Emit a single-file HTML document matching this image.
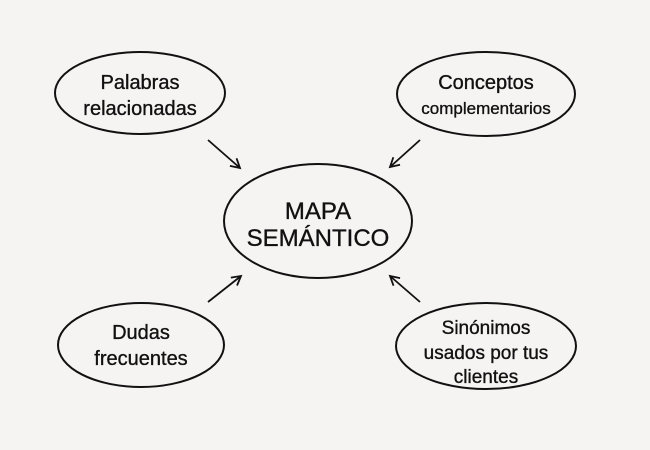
<!DOCTYPE html>
<html><head><style>
body{margin:0;background:#f6f3f3;}
svg{display:block}
text{font-family:"Liberation Sans",sans-serif;fill:#111;stroke:#111;stroke-width:0.35;text-anchor:middle;}
</style></head><body>
<svg width="650" height="450" viewBox="0 0 650 450">
<rect width="650" height="450" fill="#f6f3f3"/>
<defs><marker id="a" markerWidth="12" markerHeight="12" refX="10" refY="6" orient="auto" markerUnits="userSpaceOnUse"><path d="M1,1 L10,6 L1,11" fill="none" stroke="#111" stroke-width="1.8"/></marker></defs>
<g fill="none" stroke="#111" stroke-width="2">
<ellipse cx="318" cy="221" rx="94" ry="57"/>
<ellipse cx="140" cy="93" rx="85" ry="41"/>
<ellipse cx="486" cy="94" rx="89" ry="42"/>
<ellipse cx="141" cy="345" rx="83" ry="42"/>
<ellipse cx="486" cy="346" rx="90" ry="43"/>
<g stroke-width="1.8" marker-end="url(#a)">
<line x1="208" y1="140" x2="240" y2="168"/>
<line x1="420" y1="140" x2="390" y2="167"/>
<line x1="208" y1="302" x2="241" y2="276"/>
<line x1="420" y1="302" x2="390" y2="276"/>
</g></g>
<text x="140" y="89" font-size="20">Palabras</text>
<text x="140" y="115" font-size="20">relacionadas</text>
<text x="486" y="89" font-size="20">Conceptos</text>
<text x="486" y="114" font-size="17">complementarios</text>
<text x="318" y="219" font-size="24" stroke-width="0.2">MAPA</text>
<text x="318" y="246" font-size="24" stroke-width="0.2">SEMÁNTICO</text>
<text x="141" y="339" font-size="20">Dudas</text>
<text x="141" y="365" font-size="20">frecuentes</text>
<text x="486" y="334" font-size="19">Sinónimos</text>
<text x="486" y="359" font-size="19">usados por tus</text>
<text x="486" y="383" font-size="19">clientes</text>
</svg>
</body></html>
